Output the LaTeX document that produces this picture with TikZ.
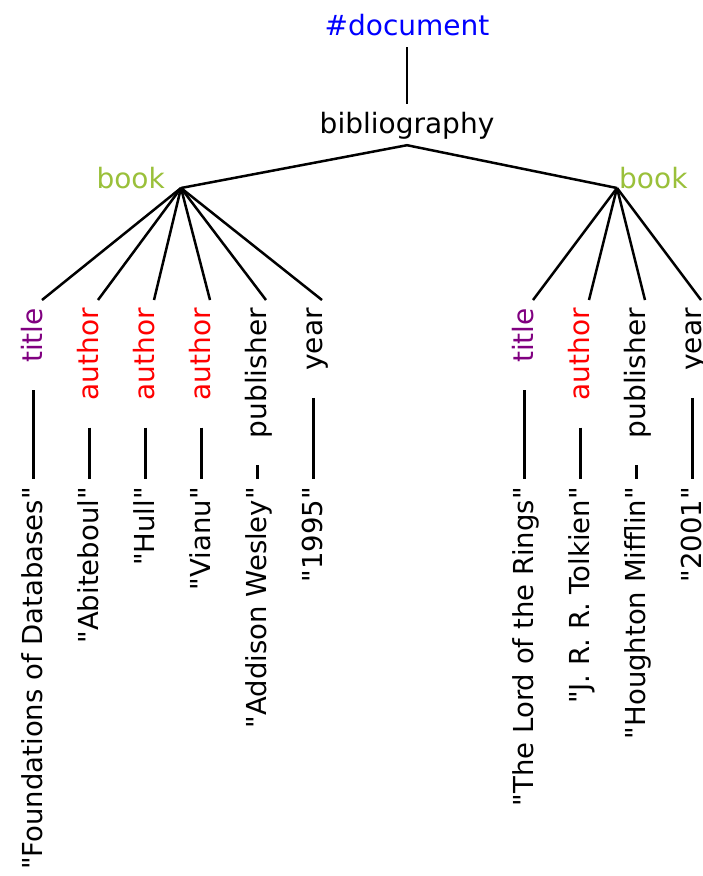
\documentclass[tikz,border=0pt]{standalone}
\usepackage{fontspec}
\setmainfont{DejaVu Sans}[Ligatures=TeXOff]
\definecolor{docblue}{RGB}{0,0,255}
\definecolor{bookgreen}{RGB}{154,192,58}
\definecolor{titlepurple}{RGB}{128,0,128}
\definecolor{authred}{RGB}{255,0,0}
\tikzset{
  lab/.style={font=\fontsize{28}{32}\selectfont, inner sep=8pt, text height=21pt, text depth=4pt},
  vlab/.style={lab, rotate=90, anchor=base east},
  vval/.style={vlab, font=\fontsize{27.5}{32}\selectfont},
  edge/.style={line width=2.5pt},
  vedge/.style={edge, shorten <=19pt},
}
\begin{document}
\begin{tikzpicture}[x=1pt,y=-1pt]
\useasboundingbox (0,0) rectangle (702,876);
\clip (0,0) rectangle (702,876);
% root
\node[lab, text=docblue, anchor=base] (doc) at (407,35) {\#document};
\node[lab, anchor=base] (bib) at (407,133) {bibliography};
\draw[edge] (doc.south) -- (bib.north);
% books
\coordinate (j1) at (181,188);
\coordinate (j2) at (617,188);
\node[lab, text=bookgreen, anchor=base east] (book1) at (173,188) {book};
\node[lab, text=bookgreen, anchor=base west] (book2) at (611,188) {book};
\draw[edge] (j1) -- (bib.south) -- (j2);
% left book children
\node[vlab, text=titlepurple] (t1) at (42,300) {title};
\node[vlab, text=authred] (a1) at (98,300) {author};
\node[vlab, text=authred] (a2) at (154,300) {author};
\node[vlab, text=authred] (a3) at (210,300) {author};
\node[vlab] (p1) at (266,300) {publisher};
\node[vlab] (y1) at (322,300) {year};
\foreach \n in {t1,a1,a2,a3,p1,y1} \draw[edge] (j1) -- (\n.base east);
% left values
\node[vval] (vt1) at (42,479) {"Foundations of Databases"};
\node[vval] (va1) at (98,479) {"Abiteboul"};
\node[vval] (va2) at (154,479) {"Hull"};
\node[vval] (va3) at (210,479) {"Vianu"};
\node[vval] (vp1) at (266,479) {"Addison Wesley"};
\node[vval] (vy1) at (322,479) {"1995"};
\draw[vedge] (t1.west) -- (vt1.east);
\draw[vedge] (a1.west) -- (va1.east);
\draw[vedge] (a2.west) -- (va2.east);
\draw[vedge] (a3.west) -- (va3.east);
\draw[vedge] (p1.west) -- (vp1.east);
\draw[vedge] (y1.west) -- (vy1.east);
% right book children
\node[vlab, text=titlepurple] (t2) at (533,300) {title};
\node[vlab, text=authred] (a4) at (589,300) {author};
\node[vlab] (p2) at (645,300) {publisher};
\node[vlab] (y2) at (701,300) {year};
\foreach \n in {t2,a4,p2,y2} \draw[edge] (j2) -- (\n.base east);
% right values
\node[vval] (vt2) at (533,479) {"The Lord of the Rings"};
\node[vval] (va4) at (589,479) {"J. R. R. Tolkien"};
\node[vval] (vp2) at (645,479) {"Houghton Mifflin"};
\node[vval] (vy2) at (701,479) {"2001"};
\draw[vedge] (t2.west) -- (vt2.east);
\draw[vedge] (a4.west) -- (va4.east);
\draw[vedge] (p2.west) -- (vp2.east);
\draw[vedge] (y2.west) -- (vy2.east);
\end{tikzpicture}
\end{document}
